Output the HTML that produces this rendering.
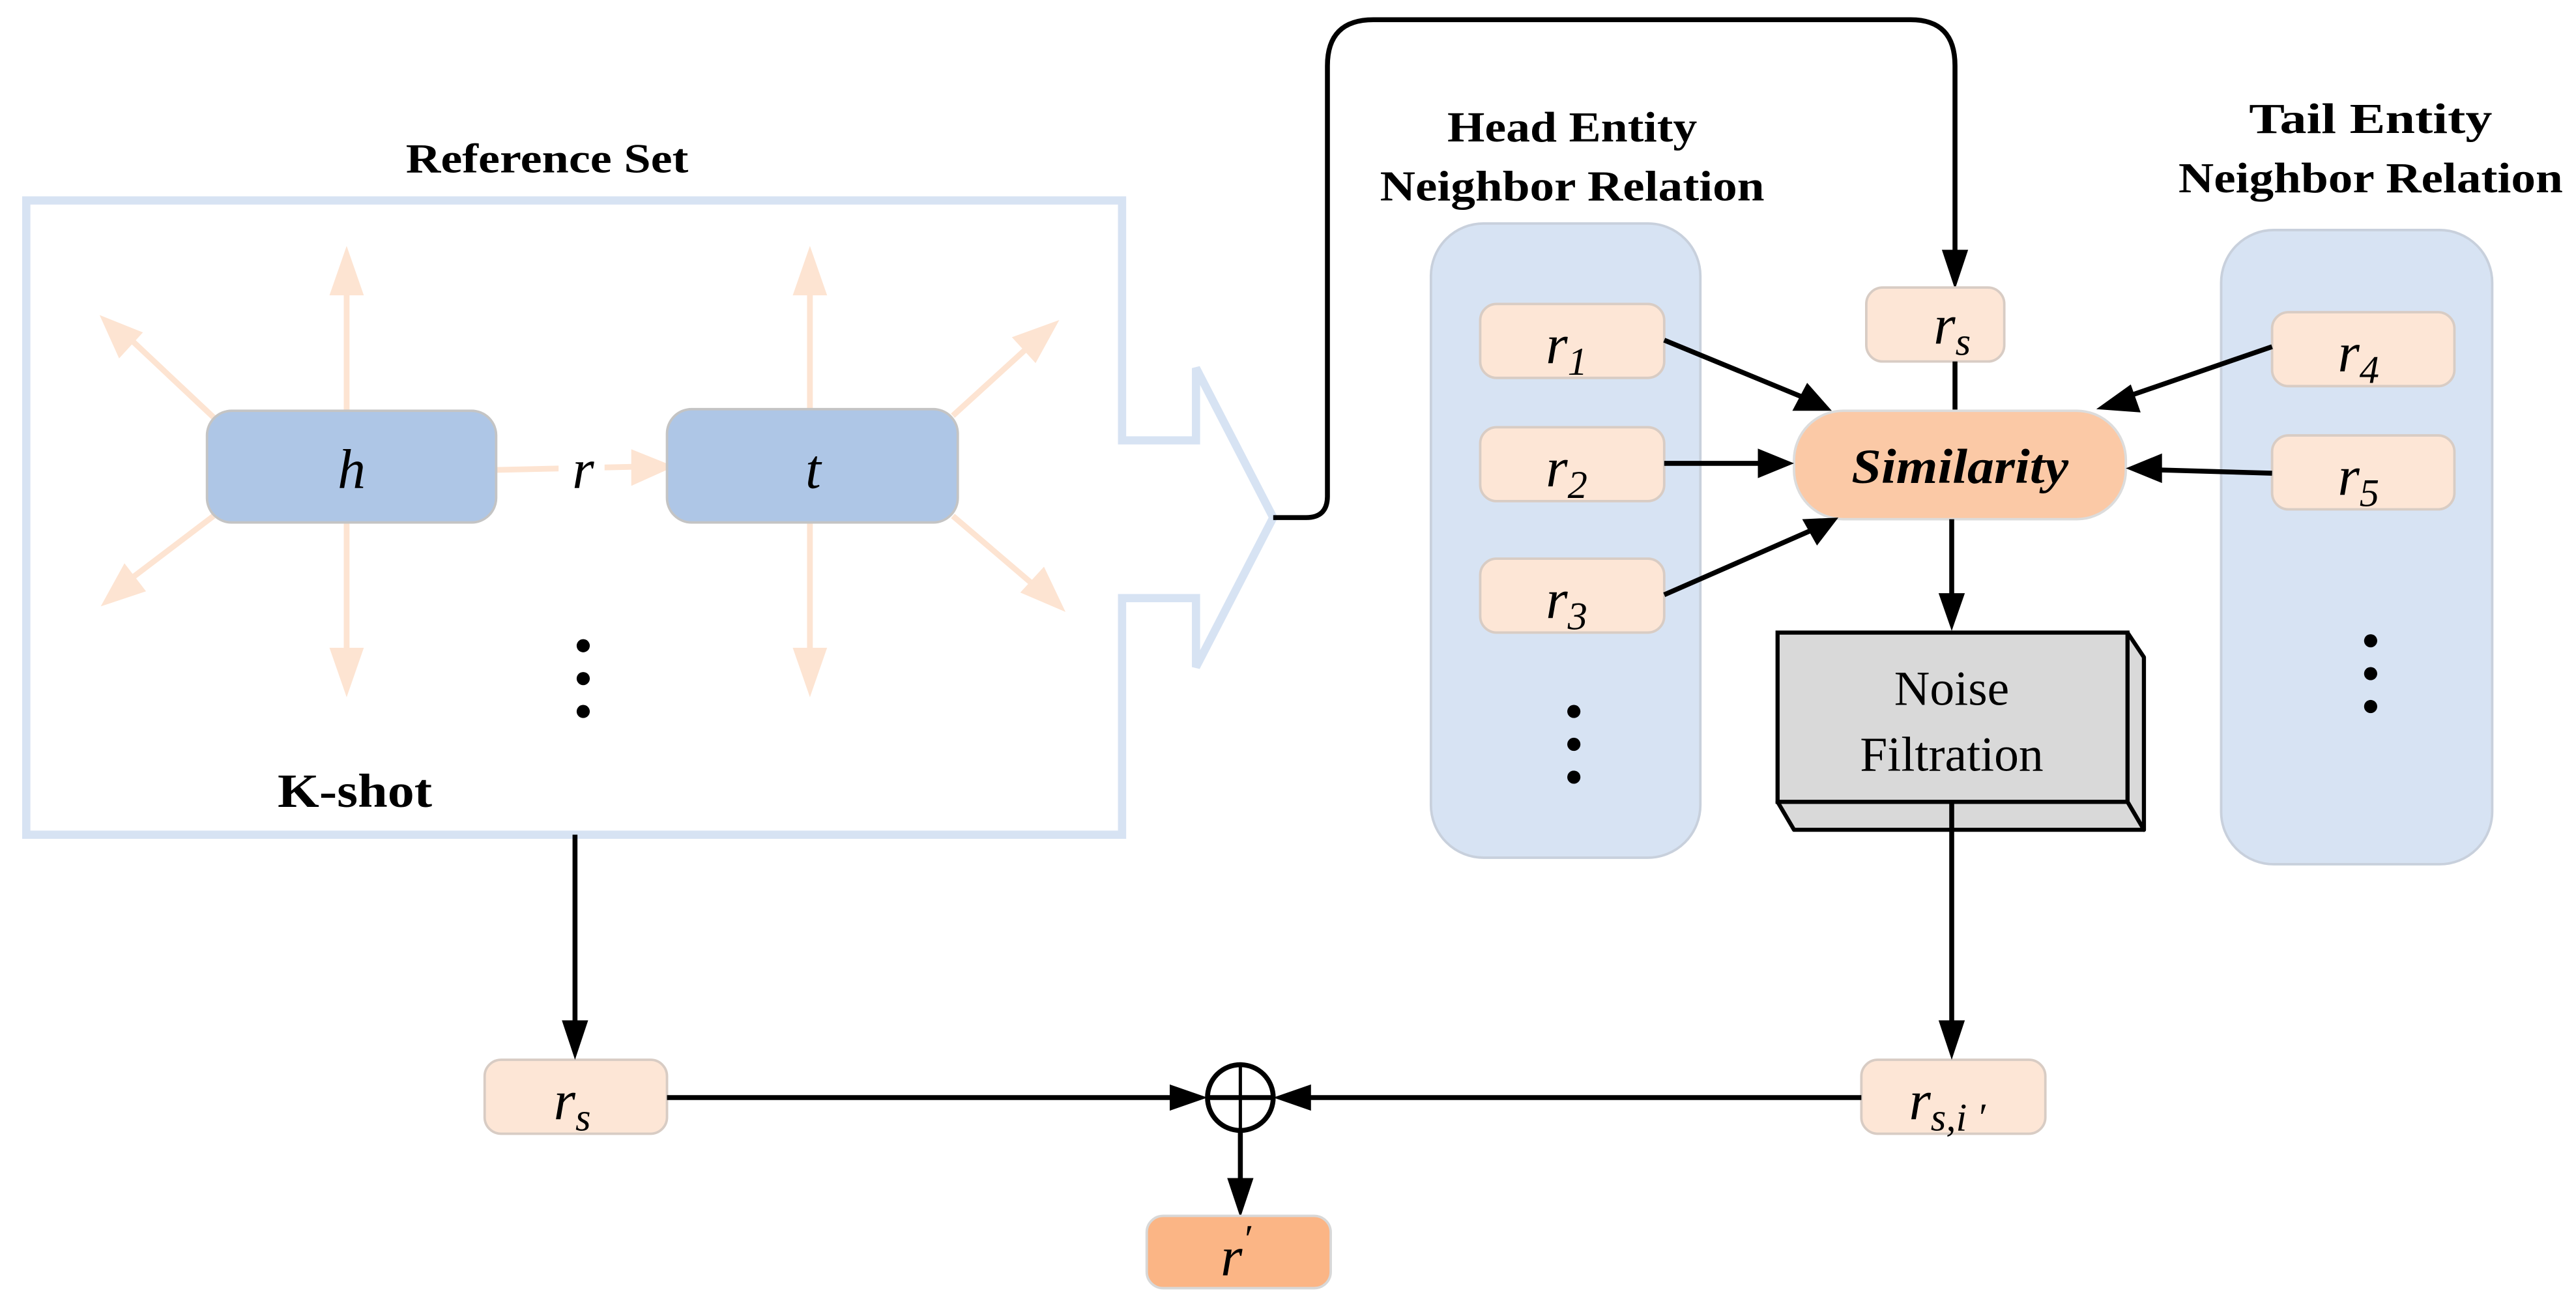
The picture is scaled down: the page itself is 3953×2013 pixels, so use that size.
<!DOCTYPE html>
<html><head><meta charset="utf-8"><style>
html,body{margin:0;padding:0;background:#fff;}
svg{display:block;}
</style></head><body>
<svg width="3953" height="2013" viewBox="0 0 1568 798.5" preserveAspectRatio="none" xmlns="http://www.w3.org/2000/svg" font-family="'Liberation Serif', 'DejaVu Serif', serif">
<!-- Reference set outline -->
<text x="333" y="105" text-anchor="middle" font-size="25" font-weight="bold" textLength="172" lengthAdjust="spacingAndGlyphs">Reference Set</text>
<path d="M16,122 H683 V268 H728 V224 L775,315 L728,406 V364 H683 V508 H16 Z" fill="none" stroke="#d7e3f3" stroke-width="5"/>
<!-- orange arrows -->
<g stroke="#fde4d2" stroke-width="3.5" fill="#fde4d2">
<line x1="211" y1="250" x2="211" y2="175"/><polygon points="211,155 203,178 219,178"/>
<line x1="211" y1="318" x2="211" y2="400"/><polygon points="211,419 203,396 219,396"/>
<line x1="130" y1="254" x2="80" y2="207"/><polygon points="64,195 73,215 84,203"/>
<line x1="130" y1="314" x2="80" y2="352"/><polygon points="65,366 86,359 76,346"/>
<line x1="493" y1="249" x2="493" y2="175"/><polygon points="493,155 485,178 501,178"/>
<line x1="493" y1="318" x2="493" y2="400"/><polygon points="493,419 485,396 501,396"/>
<line x1="580" y1="253" x2="625" y2="212"/><polygon points="641,198 619,206 630,218"/>
<line x1="580" y1="314" x2="628" y2="355"/><polygon points="645,369 635,348 624,360"/>
<line x1="302" y1="286" x2="390" y2="284"/><polygon points="406,284 386,276 386,293"/>
</g>
<rect x="126" y="250" width="176" height="68" rx="15" fill="#aec6e6" stroke="#c4c4c4" stroke-width="1.5"/>
<rect x="406" y="249" width="177" height="69" rx="15" fill="#aec6e6" stroke="#c4c4c4" stroke-width="1.5"/>
<text x="214" y="297" text-anchor="middle" font-size="34" font-style="italic">h</text>
<text x="495" y="297" text-anchor="middle" font-size="34" font-style="italic">t</text>
<rect x="340" y="270" width="28" height="30" fill="#fff"/>
<text x="355" y="297" text-anchor="middle" font-size="34" font-style="italic">r</text>
<g fill="#000"><circle cx="355" cy="393" r="4"/><circle cx="355" cy="413" r="4"/><circle cx="355" cy="433" r="4"/></g>
<text x="216" y="491" text-anchor="middle" font-size="29" font-weight="bold" textLength="94" lengthAdjust="spacingAndGlyphs">K-shot</text>

<!-- top connector -->
<path d="M775,315 H795 Q808,315 808,302 V40 Q808,12 836,12 H1163 Q1190,12 1190,40 V155" fill="none" stroke="#000" stroke-width="3"/>
<polygon points="1190,176 1182,152 1198,152" fill="#000"/>

<!-- head panel -->
<text x="957" y="86" text-anchor="middle" font-size="26" font-weight="bold" textLength="152" lengthAdjust="spacingAndGlyphs">Head Entity</text>
<text x="957" y="122" text-anchor="middle" font-size="26" font-weight="bold" textLength="234" lengthAdjust="spacingAndGlyphs">Neighbor Relation</text>
<rect x="871" y="136" width="164" height="386" rx="32" fill="#d7e3f3" stroke="#c8d0dc" stroke-width="1.5"/>
<g fill="#fde6d6" stroke="#d8ccc4" stroke-width="1.5">
<rect x="901" y="185" width="112" height="45" rx="10"/>
<rect x="901" y="260" width="112" height="45" rx="10"/>
<rect x="901" y="340" width="112" height="45" rx="10"/>
<rect x="1136" y="175" width="84" height="45" rx="10"/>
<rect x="295" y="645" width="111" height="45" rx="10"/>
<rect x="1133" y="645" width="112" height="45" rx="10"/>
</g>
<g font-size="34" font-style="italic">
<text x="941" y="221">r<tspan font-size="24" dy="7">1</tspan></text>
<text x="941" y="296">r<tspan font-size="24" dy="7">2</tspan></text>
<text x="941" y="376">r<tspan font-size="24" dy="7">3</tspan></text>
<text x="1177" y="209">r<tspan font-size="24" dy="7">s</tspan></text>
<text x="337" y="681">r<tspan font-size="24" dy="7">s</tspan></text>
<text x="1162" y="681">r<tspan font-size="24" dy="7">s,i ′</tspan></text>
</g>
<g fill="#000"><circle cx="958" cy="433" r="4"/><circle cx="958" cy="453" r="4"/><circle cx="958" cy="473" r="4"/>
<circle cx="1443" cy="390" r="4"/><circle cx="1443" cy="410" r="4"/><circle cx="1443" cy="430" r="4"/></g>

<!-- tail panel -->
<text x="1443" y="81" text-anchor="middle" font-size="26" font-weight="bold" textLength="148" lengthAdjust="spacingAndGlyphs">Tail Entity</text>
<text x="1443" y="117" text-anchor="middle" font-size="26" font-weight="bold" textLength="234" lengthAdjust="spacingAndGlyphs">Neighbor Relation</text>
<rect x="1352" y="140" width="165" height="386" rx="32" fill="#d7e3f3" stroke="#c8d0dc" stroke-width="1.5"/>
<g fill="#fde6d6" stroke="#d8ccc4" stroke-width="1.5">
<rect x="1383" y="190" width="111" height="45" rx="10"/>
<rect x="1383" y="265" width="111" height="45" rx="10"/>
</g>
<g font-size="34" font-style="italic">
<text x="1423" y="226">r<tspan font-size="24" dy="7">4</tspan></text>
<text x="1423" y="301">r<tspan font-size="24" dy="7">5</tspan></text>
</g>
<g fill="#000"><circle cx="1443" cy="390" r="4"/><circle cx="1443" cy="410" r="4"/><circle cx="1443" cy="430" r="4"/></g>

<!-- similarity -->
<line x1="1190" y1="220" x2="1190" y2="250" stroke="#000" stroke-width="3"/>
<rect x="1092" y="250" width="202" height="66" rx="30" fill="#fbc9a6" stroke="#dcdcdc" stroke-width="1.5"/>
<text x="1193" y="294" text-anchor="middle" font-size="30" font-weight="bold" font-style="italic" textLength="132" lengthAdjust="spacingAndGlyphs">Similarity</text>
<g stroke="#000" stroke-width="3">
<line x1="1013" y1="207" x2="1098" y2="242"/>
<line x1="1013" y1="282" x2="1072" y2="282"/>
<line x1="1013" y1="362" x2="1102" y2="323"/>
<line x1="1383" y1="211" x2="1293" y2="242"/>
<line x1="1383" y1="288" x2="1314" y2="286"/>
<line x1="1188" y1="316" x2="1188" y2="365"/>
<line x1="1188" y1="488" x2="1188" y2="625"/>
<line x1="350" y1="508" x2="350" y2="625"/>
<line x1="406" y1="668" x2="715" y2="668"/>
<line x1="1133" y1="668" x2="795" y2="668"/>
<line x1="755" y1="688" x2="755" y2="720"/>
</g>
<g fill="#000">
<polygon points="1115,250 1091,250 1100,233"/>
<polygon points="1092,282 1070,273 1070,291"/>
<polygon points="1119,315 1106,332 1097,316"/>
<polygon points="1276,249 1297,234 1303,251"/>
<polygon points="1294,285 1316,276 1316,294"/>
<polygon points="1188,384 1180,361 1196,361"/>
<polygon points="1188,645 1180,621 1196,621"/>
<polygon points="350,645 342,621 358,621"/>
<polygon points="735,668 712,660 712,676"/>
<polygon points="775,668 798,660 798,676"/>
<polygon points="755,741 747,717 763,717"/>
</g>

<!-- noise filtration -->
<polygon points="1295,385 1305,400 1305,505 1295,488" fill="#d9d9d9" stroke="#000" stroke-width="2.5" stroke-linejoin="round"/>
<polygon points="1082,488 1092,505 1305,505 1295,488" fill="#d9d9d9" stroke="#000" stroke-width="2.5" stroke-linejoin="round"/>
<rect x="1082" y="385" width="213" height="103" fill="#d9d9d9" stroke="#000" stroke-width="2.5"/>
<text x="1188" y="429" text-anchor="middle" font-size="30">Noise</text>
<text x="1188" y="469" text-anchor="middle" font-size="30">Filtration</text>
<line x1="1188" y1="488" x2="1188" y2="505" stroke="#000" stroke-width="3"/>

<!-- bottom plus -->
<circle cx="755" cy="668" r="20" fill="none" stroke="#000" stroke-width="3"/>
<line x1="735" y1="668" x2="775" y2="668" stroke="#000" stroke-width="3"/>
<line x1="755" y1="648" x2="755" y2="688" stroke="#000" stroke-width="2"/>

<rect x="698" y="740" width="112" height="44" rx="10" fill="#fbb585" stroke="#d8d8d8" stroke-width="1.5"/>
<text x="743" y="776" font-size="34" font-style="italic">r<tspan font-size="24" dy="-14">′</tspan></text>
</svg>
</body></html>
